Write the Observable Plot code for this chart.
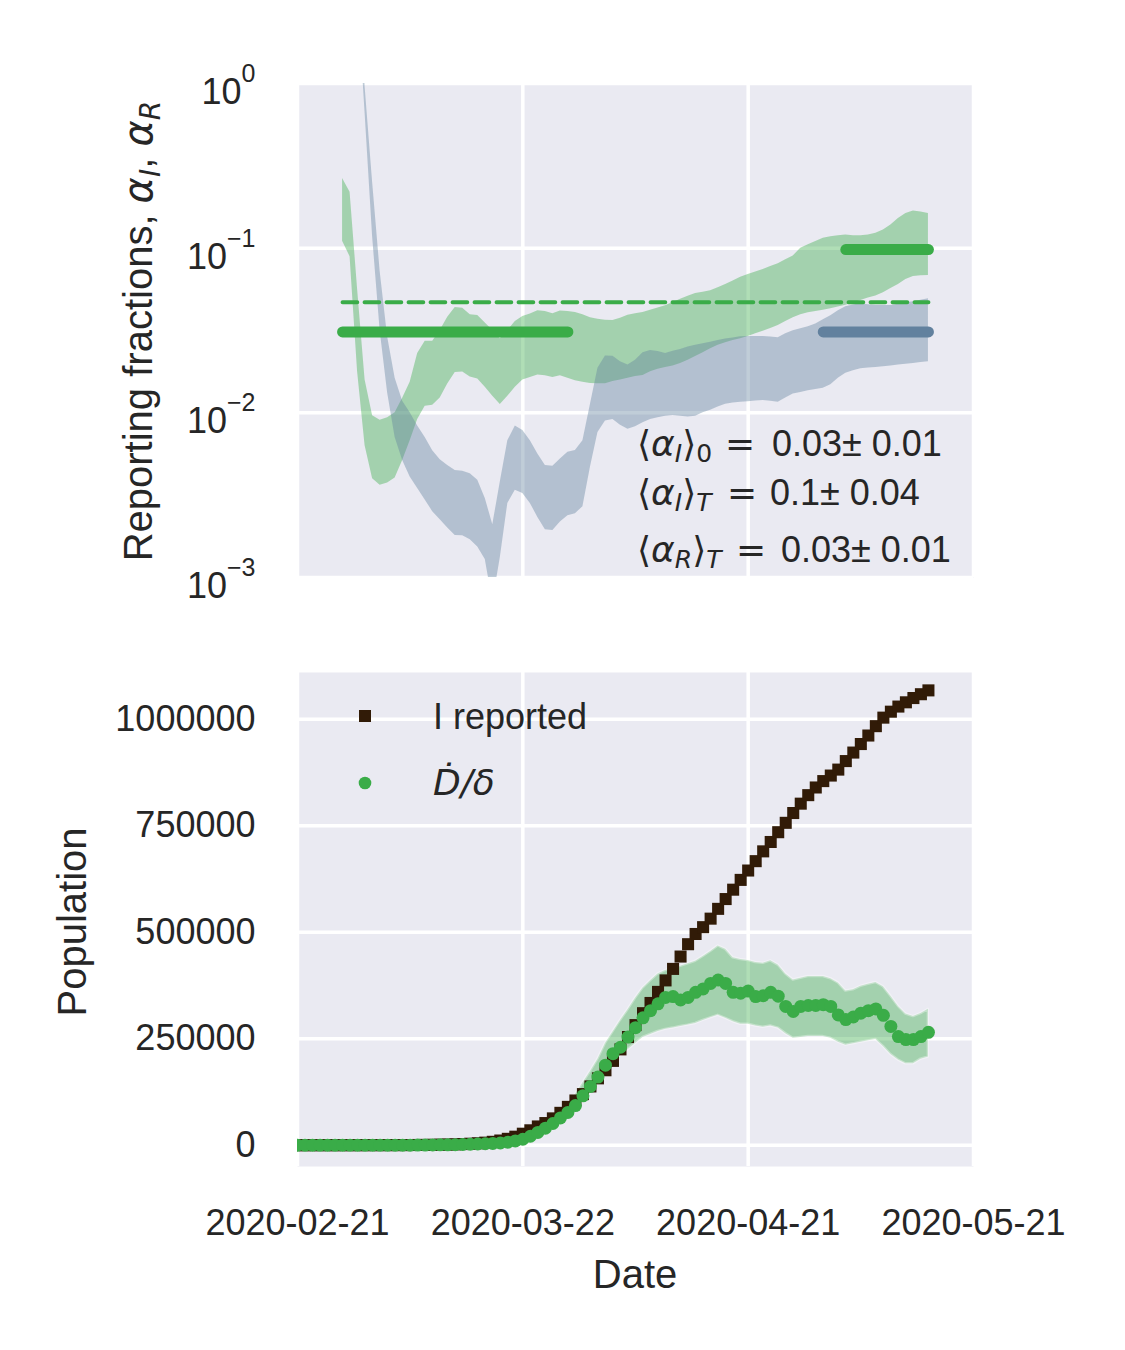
<!DOCTYPE html>
<html>
<head>
<meta charset="utf-8">
<script src="https://cdn.jsdelivr.net/npm/d3@7"></script>
<script src="https://cdn.jsdelivr.net/npm/@observablehq/plot@0.6"></script>
<style>
  html, body { margin: 0; padding: 0; background: #fff; overflow: hidden; }
  #fig { position: relative; width: 1125px; height: 1350px; background: #fff; }
  #fig > svg { position: absolute; left: 0; }
</style>
</head>
<body>
<div id="fig"></div>
<script>
// ---------------- DATA ----------------
const firstDate = "2020-02-21";                       // day 0
const xTickLabels = ["2020-02-21", "2020-03-22", "2020-04-21", "2020-05-21"];
const logTicks = [1e-3, 1e-2, 1e-1, 1];
const popTicks = [0, 250000, 500000, 750000, 1000000];

// reporting fraction alpha_I confidence band (log10 values), days 6..84
const alphaIFirstDay = 6;
const alphaIUpperLog10 = [-0.577,-0.66,-1.25,-1.80,-2.017,-2.045,-2.03,-2.00,-1.912,-1.815,
  -1.64,-1.565,-1.566,-1.50,-1.42,-1.36,-1.365,-1.405,-1.409,-1.455,
  -1.50,-1.55,-1.50,-1.445,-1.415,-1.40,-1.38,-1.385,-1.398,-1.382,
  -1.385,-1.39,-1.405,-1.422,-1.432,-1.438,-1.44,-1.425,-1.408,-1.398,
  -1.39,-1.377,-1.363,-1.35,-1.33,-1.31,-1.292,-1.275,-1.267,-1.258,
  -1.24,-1.22,-1.2,-1.177,-1.16,-1.145,-1.13,-1.112,-1.094,-1.07,
  -1.047,-1.0,-0.98,-0.96,-0.94,-0.93,-0.925,-0.92,-0.925,-0.925,
  -0.92,-0.91,-0.89,-0.86,-0.82,-0.79,-0.775,-0.78,-0.79];
const alphaILowerLog10 = [-0.958,-1.052,-1.75,-2.2,-2.4,-2.44,-2.426,-2.395,-2.289,-2.17,
  -2.04,-1.96,-1.954,-1.91,-1.825,-1.755,-1.752,-1.783,-1.795,-1.845,
  -1.90,-1.95,-1.90,-1.845,-1.80,-1.785,-1.77,-1.775,-1.785,-1.775,
  -1.79,-1.805,-1.815,-1.822,-1.823,-1.823,-1.81,-1.80,-1.79,-1.78,
  -1.773,-1.75,-1.735,-1.725,-1.715,-1.70,-1.68,-1.658,-1.635,-1.611,
  -1.59,-1.575,-1.56,-1.55,-1.536,-1.52,-1.505,-1.488,-1.469,-1.445,
  -1.422,-1.405,-1.392,-1.385,-1.377,-1.368,-1.357,-1.347,-1.333,-1.318,
  -1.303,-1.29,-1.27,-1.245,-1.22,-1.19,-1.172,-1.168,-1.166];

// reporting fraction alpha_R confidence band (log10 values), days 8..84
const alphaRFirstDay = 8;
const alphaRUpperLog10 = [0.9,-0.02,-0.6,-1.14,-1.54,-1.79,-1.93,-2.0,
  -2.08,-2.15,-2.23,-2.285,-2.32,-2.35,-2.355,-2.37,-2.41,-2.52,
  -2.68,-2.42,-2.17,-2.08,-2.107,-2.17,-2.25,-2.32,-2.325,-2.28,
  -2.24,-2.228,-2.17,-1.95,-1.73,-1.655,-1.657,-1.69,-1.71,-1.68,
  -1.635,-1.622,-1.628,-1.64,-1.626,-1.615,-1.60,-1.59,-1.58,-1.571,
  -1.56,-1.552,-1.545,-1.538,-1.536,-1.536,-1.537,-1.54,-1.544,-1.52,
  -1.502,-1.49,-1.477,-1.46,-1.435,-1.41,-1.38,-1.356,-1.345,-1.338,
  -1.343,-1.348,-1.348,-1.348,-1.34,-1.332,-1.325,-1.316,-1.307];
const alphaRLowerLog10 = [0.55,-0.18,-0.93,-1.5,-1.88,-2.15,-2.29,-2.39,
  -2.46,-2.53,-2.60,-2.65,-2.70,-2.745,-2.747,-2.77,-2.815,-2.89,
  -3.15,-2.88,-2.55,-2.47,-2.49,-2.55,-2.635,-2.71,-2.714,-2.663,
  -2.625,-2.613,-2.57,-2.33,-2.12,-2.05,-2.04,-2.075,-2.10,-2.085,
  -2.06,-2.04,-2.03,-2.02,-2.016,-2.02,-2.025,-2.02,-2.00,-1.985,
  -1.965,-1.948,-1.94,-1.935,-1.932,-1.928,-1.925,-1.93,-1.935,-1.91,
  -1.886,-1.877,-1.866,-1.858,-1.85,-1.83,-1.79,-1.76,-1.745,-1.733,
  -1.728,-1.724,-1.72,-1.715,-1.71,-1.705,-1.70,-1.695,-1.69];

// mean reporting fractions: [value, first day, last day]
const alphaI0 = [0.031, 6, 36];
const alphaIT = [0.098, 73, 84];
const alphaRT = [0.031, 70, 84];
const alphaIMean = [0.047, 6, 84];

// bottom panel, days 0..84
const iReported = [15,15,20,25,30,40,50,60,70,90,
  110,140,180,230,300,400,550,700,900,1200,
  1500,2000,2700,3500,4500,6000,8000,11000,15000,20000,
  27000,35000,44000,52000,63000,76000,90000,105000,120000,138000,
  157000,176000,198000,225000,254000,282000,310000,334000,360000,387000,
  414000,443000,472000,496000,512000,532000,555000,578000,600000,623000,
  645000,667000,690000,712000,735000,757000,780000,802000,822000,840000,
  855000,868000,882000,902000,922000,942000,962000,984000,1004000,1018000,
  1030000,1040000,1050000,1059000,1068000];
const dDotOverDelta = [0,0,0,0,0,0,0,0,0,0,
  0,0,0,0,0,0,200,400,600,800,
  1000,1300,1700,2200,2800,3400,4200,5200,7000,10000,
  14000,21000,30000,40000,51000,64000,77000,93000,116000,138000,
  160000,188000,215000,230000,254000,276000,299000,316000,332000,347000,
  349000,341000,347000,359000,367000,380000,388000,380000,359000,357000,
  362000,349000,351000,359000,350000,326000,314000,326000,328000,328000,
  330000,326000,306000,295000,301000,310000,316000,320000,305000,279000,
  255000,248000,248000,255000,265000];
const dUpper = [0,0,0,0,0,0,0,0,0,0,
  0,0,0,0,0,0,300,500,800,1000,
  1300,1700,2200,2800,3600,4400,5400,6800,9000,13000,
  18000,27000,38000,51000,65000,82000,99000,119000,146000,173000,
  202000,239000,266000,293000,318000,345000,369000,386000,402000,410000,
  415000,420000,426000,432000,443000,455000,468000,460000,440000,436000,
  434000,429000,427000,433000,423000,402000,388000,392000,396000,396000,
  396000,391000,381000,362000,365000,373000,378000,382000,372000,350000,
  326000,308000,302000,309000,319000];
const dLower = [0,0,0,0,0,0,0,0,0,0,
  0,0,0,0,0,0,150,300,500,650,
  850,1100,1400,1800,2300,2800,3500,4400,6000,8500,
  12000,18000,26000,35000,44000,55000,66000,80000,102000,122000,
  148000,172000,195000,210000,224000,239000,253000,260000,267000,272000,
  275000,279000,282000,286000,293000,299000,305000,298000,290000,284000,
  284000,280000,277000,280000,275000,262000,251000,253000,255000,255000,
  255000,251000,242000,235000,238000,242000,245000,248000,232000,213000,
  200000,191000,191000,202000,207000];

// ---------------- BUILD ----------------
const t0 = new Date(firstDate + "T00:00:00Z").getTime();
const dayDate = d => new Date(t0 + d * 864e5);
const xTicks = xTickLabels.map(s => new Date(s + "T00:00:00Z"));
const xDomain = [xTicks[0], xTicks[xTicks.length - 1]];

const bandI = alphaIUpperLog10.map((u, i) => ({date: dayDate(alphaIFirstDay + i), hi: Math.pow(10, u), lo: Math.pow(10, alphaILowerLog10[i])}));
const bandR = alphaRUpperLog10.map((u, i) => ({date: dayDate(alphaRFirstDay + i), hi: Math.pow(10, u), lo: Math.pow(10, alphaRLowerLog10[i])}));
const seg = ([v, a, b]) => [{date: dayDate(a), v}, {date: dayDate(b), v}];

const bottomRows = iReported.map((v, i) => ({date: dayDate(i), rep: v, dd: dDotOverDelta[i], hi: dUpper[i], lo: dLower[i]}));

const GREEN = "#3aac48", BLUE = "#62819e", BROWN = "#311b07", BG = "#EAEAF2", INK = "#262626";
const FONT = "'Liberation Sans', Arial, Helvetica, sans-serif";
const W = 1125;
const ML = 297, MR = 152;
const gridStyle = {stroke: "white", strokeOpacity: 1, strokeWidth: 3.5};
const baseStyle = {fontFamily: FONT, fontSize: "36px", color: INK, background: "transparent", overflow: "visible"};

const topPlot = Plot.plot({
  width: W, height: 620,
  marginLeft: ML, marginRight: MR, marginTop: 83, marginBottom: 43,
  style: baseStyle,
  x: {type: "utc", domain: xDomain, axis: null},
  y: {type: "log", domain: [1e-3, 1]},
  marks: [
    Plot.frame({fill: BG, stroke: "none"}),
    Plot.gridX(xTicks, gridStyle),
    Plot.gridY(logTicks, gridStyle),
    Plot.areaY(bandI, {x: "date", y1: "lo", y2: "hi", fill: GREEN, fillOpacity: 0.4, curve: "linear", clip: true}),
    Plot.areaY(bandR, {x: "date", y1: "lo", y2: "hi", fill: BLUE, fillOpacity: 0.4, curve: "linear", clip: true}),
    Plot.line(seg(alphaIMean), {x: "date", y: "v", stroke: GREEN, strokeWidth: 4, strokeDasharray: "14.7,7.3"}),
    Plot.line(seg(alphaI0), {x: "date", y: "v", stroke: GREEN, strokeWidth: 11, strokeLinecap: "round"}),
    Plot.line(seg(alphaIT), {x: "date", y: "v", stroke: GREEN, strokeWidth: 11, strokeLinecap: "round"}),
    Plot.line(seg(alphaRT), {x: "date", y: "v", stroke: BLUE, strokeWidth: 11, strokeLinecap: "round"}),
    Plot.axisY(logTicks, {tickSize: 0, tickPadding: 42, label: null, tickFormat: d => String(Math.round(Math.log10(d)))})
  ]
});

const bottomPlot = Plot.plot({
  width: W, height: 730,
  marginLeft: ML, marginRight: MR, marginTop: 52, marginBottom: 184,
  style: baseStyle,
  x: {type: "utc", domain: xDomain},
  y: {domain: [-50000, 1110000]},
  marks: [
    Plot.frame({fill: BG, stroke: "none"}),
    Plot.gridX(xTicks, gridStyle),
    Plot.gridY(popTicks, gridStyle),
    Plot.areaY(bottomRows, {x: "date", y1: "lo", y2: "hi", fill: GREEN, fillOpacity: 0.4, stroke: "white", strokeOpacity: 0.35, strokeWidth: 2.5, curve: "linear", clip: true}),
    Plot.dot(bottomRows, {x: "date", y: "rep", symbol: "square", r: 6.8, fill: BROWN, stroke: "none", clip: true}),
    Plot.dot(bottomRows, {x: "date", y: "dd", r: 6.5, fill: GREEN, stroke: "none", clip: true}),
    Plot.axisY(popTicks, {tickSize: 0, tickPadding: 42, label: null, tickFormat: d => String(d)}),
    Plot.axisX(xTicks, {tickSize: 0, tickPadding: 43, label: null, tickFormat: d3.utcFormat("%Y-%m-%d")})
  ]
});

// power-of-ten tick labels with superscripts
const NS = "http://www.w3.org/2000/svg";
topPlot.querySelectorAll('g[aria-label="y-axis tick label"] text').forEach(t => {
  const e = t.textContent.trim();
  t.textContent = "";
  const base = document.createElementNS(NS, "tspan");
  base.setAttribute("dy", "9");
  base.textContent = "10";
  const sup = document.createElementNS(NS, "tspan");
  sup.setAttribute("dy", "-22");
  sup.setAttribute("font-size", "25");
  sup.textContent = e.startsWith("-") ? "\u2212" + e.slice(1) : e;
  t.append(base, sup);
});

const fig = document.getElementById("fig");
topPlot.style.top = "0px";
bottomPlot.style.top = "620px";
fig.append(topPlot, bottomPlot);

// overlay: axis titles, legend, annotations (real text)
const M = "font-family=\"DejaVu Sans\"";
const overlay = document.createElementNS(NS, "svg");
overlay.setAttribute("width", W);
overlay.setAttribute("height", 1350);
overlay.style.position = "absolute";
overlay.style.left = "0px";
overlay.style.top = "0px";
overlay.style.pointerEvents = "none";
overlay.innerHTML = `
<g fill="${INK}" font-family="${FONT.replace(/"/g, "'")}">
  <text transform="translate(152,331) rotate(-90)" text-anchor="middle" font-size="40">Reporting fractions, <tspan ${M} font-style="italic">α</tspan><tspan ${M} font-style="italic" font-size="28" dy="8">I</tspan><tspan dy="-8">, </tspan><tspan ${M} font-style="italic">α</tspan><tspan ${M} font-style="italic" font-size="28" dy="8">R</tspan></text>
  <text transform="translate(86,922) rotate(-90)" text-anchor="middle" font-size="40">Population</text>
  <text x="635" y="1288" text-anchor="middle" font-size="40">Date</text>

  <rect x="359" y="710" width="12" height="12" fill="${BROWN}"/>
  <circle cx="365" cy="783" r="6.3" fill="${GREEN}"/>
  <text x="433" y="729" font-size="36">I reported</text>
  <text x="433" y="795" font-size="36" ${M} font-style="italic">Ḋ/δ</text>

  <text y="456" font-size="36"><tspan x="637" ${M}>⟨</tspan><tspan ${M} font-style="italic">α</tspan><tspan ${M} font-style="italic" font-size="25" dy="6">I</tspan><tspan ${M} dy="-6">⟩</tspan><tspan ${M} font-size="25" dy="6">0</tspan><tspan x="725" dy="-6" ${M}>=</tspan><tspan x="772">0.03± 0.01</tspan></text>
  <text y="505" font-size="36"><tspan x="637" ${M}>⟨</tspan><tspan ${M} font-style="italic">α</tspan><tspan ${M} font-style="italic" font-size="25" dy="6">I</tspan><tspan ${M} dy="-6">⟩</tspan><tspan ${M} font-style="italic" font-size="25" dy="6">T</tspan><tspan x="727" dy="-6" ${M}>=</tspan><tspan x="770">0.1± 0.04</tspan></text>
  <text y="562" font-size="36"><tspan x="637" ${M}>⟨</tspan><tspan ${M} font-style="italic">α</tspan><tspan ${M} font-style="italic" font-size="25" dy="6">R</tspan><tspan ${M} dy="-6">⟩</tspan><tspan ${M} font-style="italic" font-size="25" dy="6">T</tspan><tspan x="736" dy="-6" ${M}>=</tspan><tspan x="781">0.03± 0.01</tspan></text>
</g>`;
fig.append(overlay);
</script>
</body>
</html>
